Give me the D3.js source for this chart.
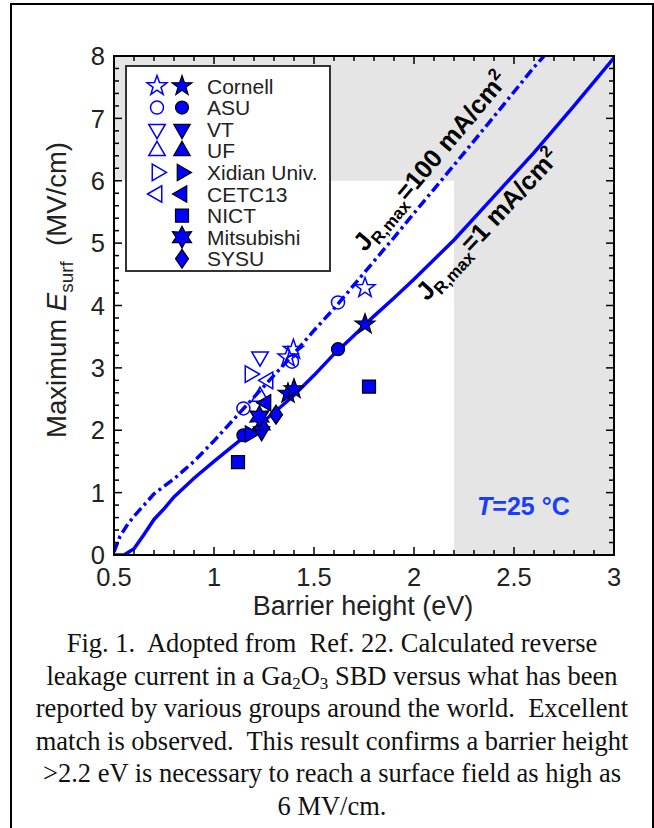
<!DOCTYPE html>
<html><head><meta charset="utf-8">
<script src="https://cdn.jsdelivr.net/npm/d3@7"></script>
<style>
html,body{margin:0;padding:0;background:#fff;}
svg{display:block;}
text{white-space:pre;}
</style></head>
<body>
<svg id="chart" width="654" height="828"></svg>
<script>
// ---------- DATA ----------
const groups = ["Cornell","ASU","VT","UF","Xidian Univ.","CETC13","NICT","Mitsubishi","SYSU"];
const groupShapes = ["star","circle","down","up","right","left","square","hexagram","diamond"];
const groupHasOpen = [true,true,true,true,true,true,false,false,false];

// open markers (x = barrier height eV, y = E_surf MV/cm)
const openGroup = ["Cornell","Cornell","Cornell","ASU","ASU","ASU","VT","UF","Xidian Univ.","CETC13"];
const openX = [1.755,1.397,1.37,1.62,1.39,1.147,1.23,1.23,1.18,1.27];
const openY = [4.28,3.29,3.17,4.05,3.10,2.35,3.18,2.54,2.90,2.80];

// filled markers
const filledGroup = ["Cornell","Cornell","Cornell","ASU","ASU","VT","UF","Xidian Univ.","CETC13","NICT","NICT","Mitsubishi","SYSU"];
const filledX = [1.755,1.37,1.40,1.62,1.147,1.238,1.24,1.18,1.26,1.775,1.12,1.227,1.31];
const filledY = [3.70,2.59,2.66,3.30,1.92,1.98,2.08,1.94,2.44,2.70,1.49,2.22,2.25];

// calculated curves
const solidX = [0.5,0.55,0.6,0.65,0.7,0.75,0.8,0.9,1.0,1.1,1.2,1.3,1.4,1.5,1.6,1.7,1.8,1.9,2.0,2.2,2.4,2.6,2.8,3.0];
const solidY = [0,0,0.1,0.33,0.57,0.74,0.93,1.23,1.5,1.76,2.02,2.28,2.56,2.88,3.22,3.52,3.83,4.12,4.42,5.05,5.75,6.45,7.2,7.97];
const dashX = [0.5,0.53,0.57,0.6,0.65,0.7,0.75,0.8,0.85,0.9,1.0,1.1,1.2,1.3,1.4,1.5,1.6,1.7,1.8,1.9,2.0,2.2,2.4,2.6,2.65];
const dashY = [0.05,0.3,0.5,0.62,0.8,0.98,1.1,1.22,1.36,1.5,1.83,2.18,2.53,2.88,3.23,3.6,3.95,4.33,4.71,5.09,5.48,6.25,7.03,7.82,8.0];

const xTicks = [0.5,1,1.5,2,2.5,3];
const xTickLabels = ["0.5","1","1.5","2","2.5","3"];
const yTicks = [0,1,2,3,4,5,6,7,8];
const shadeLimitX = 2.2, shadeLimitY = 6;

const caption = [
 "Fig. 1.  Adopted from  Ref. 22. Calculated reverse",
 ["leakage current in a Ga","2","O","3"," SBD versus what has been"],
 "reported by various groups around the world.  Excellent",
 "match is observed.  This result confirms a barrier height",
 ">2.2 eV is necessary to reach a surface field as high as",
 "6 MV/cm."
];

// ---------- LAYOUT ----------
const svg = d3.select("#chart");
const L = 114, R = 614, T = 56, B = 555;
const x = d3.scaleLinear().domain([0.5,3]).range([L,R]);
const y = d3.scaleLinear().domain([0,8]).range([B,T]);
const blue = "#0000ff";
const sans = "'Liberation Sans', Arial, Helvetica, sans-serif";
const textCol = "#222";

// outer frame
svg.append("rect").attr("x",11).attr("y",4).attr("width",642).attr("height",840)
  .attr("fill","none").attr("stroke","#000").attr("stroke-width",2);

// shading
const shade = "#e5e5e5";
svg.append("rect").attr("x",x(shadeLimitX)).attr("y",y(8)).attr("width",x(3)-x(shadeLimitX)).attr("height",y(0)-y(8)).attr("fill",shade);
svg.append("rect").attr("x",x(0.5)).attr("y",y(8)).attr("width",x(shadeLimitX)-x(0.5)).attr("height",y(shadeLimitY)-y(8)).attr("fill",shade);

// clip
svg.append("clipPath").attr("id","pc").append("rect").attr("x",L).attr("y",T).attr("width",R-L).attr("height",B-T);

// curves
const line = d3.line().x(d=>x(d[0])).y(d=>y(d[1]));
const gC = svg.append("g").attr("clip-path","url(#pc)");
gC.append("path").datum(dashX.map((v,i)=>[v,dashY[i]])).attr("d",line)
  .attr("fill","none").attr("stroke",blue).attr("stroke-width",3.5).attr("stroke-dasharray","10,4,3,4");
gC.append("path").datum(solidX.map((v,i)=>[v,solidY[i]])).attr("d",line)
  .attr("fill","none").attr("stroke",blue).attr("stroke-width",3.5);

// marker shapes
function starPath(n, ro, ri){
  let p=[];
  for(let i=0;i<2*n;i++){
    const r = i%2===0?ro:ri;
    const a = -Math.PI/2 + i*Math.PI/n;
    p.push([r*Math.cos(a), r*Math.sin(a)]);
  }
  return "M"+p.map(q=>q[0].toFixed(2)+","+q[1].toFixed(2)).join("L")+"Z";
}
function triPath(r, rot){
  let p=[];
  for(let i=0;i<3;i++){
    const a = rot + i*2*Math.PI/3;
    p.push([r*Math.cos(a), r*Math.sin(a)]);
  }
  return "M"+p.map(q=>q[0].toFixed(2)+","+q[1].toFixed(2)).join("L")+"Z";
}
function shapePath(s){
  switch(s){
    case "star": return starPath(5, 10.5, 4.2);
    case "hexagram": return starPath(6, 11, 6.0);
    case "circle": return "M6.5,0A6.5,6.5 0 1,1 -6.5,0A6.5,6.5 0 1,1 6.5,0Z";
    case "up": return triPath(9.5, -Math.PI/2);
    case "down": return triPath(9.5, Math.PI/2);
    case "right": return triPath(9.5, 0);
    case "left": return triPath(9.5, Math.PI);
    case "square": return "M-6.5,-6.5L6.5,-6.5L6.5,6.5L-6.5,6.5Z";
    case "diamond": return "M0,-9.5L6.5,0L0,9.5L-6.5,0Z";
  }
}
const shapeOf = g => groupShapes[groups.indexOf(g)];

// open markers
svg.append("g").selectAll("path").data(openX.map((v,i)=>({x:v,y:openY[i],g:openGroup[i]})))
  .join("path").attr("transform",d=>`translate(${x(d.x)},${y(d.y)})`)
  .attr("d",d=>shapePath(shapeOf(d.g))).attr("fill","none").attr("stroke",blue).attr("stroke-width",1.5);
// filled markers
svg.append("g").selectAll("path").data(filledX.map((v,i)=>({x:v,y:filledY[i],g:filledGroup[i]})))
  .join("path").attr("transform",d=>`translate(${x(d.x)},${y(d.y)})`)
  .attr("d",d=>shapePath(shapeOf(d.g))).attr("fill",blue).attr("stroke","#000").attr("stroke-width",1.2);

// axes box
svg.append("rect").attr("x",L).attr("y",T).attr("width",R-L).attr("height",B-T)
  .attr("fill","none").attr("stroke","#000").attr("stroke-width",2);

const minorX = d3.range(5,31).map(v=>v/10);
const minorY = d3.range(0,41).map(v=>v/5);
const gt = svg.append("g").attr("stroke","#000").attr("stroke-width",1.5);
minorX.forEach(v=>{
  const major = xTicks.some(t=>Math.abs(t-v)<1e-6);
  const len = major?8:5;
  gt.append("line").attr("x1",x(v)).attr("x2",x(v)).attr("y1",B).attr("y2",B-len);
  gt.append("line").attr("x1",x(v)).attr("x2",x(v)).attr("y1",T).attr("y2",T+len);
});
minorY.forEach(v=>{
  const major = yTicks.some(t=>Math.abs(t-v)<1e-6);
  const len = major?8:5;
  gt.append("line").attr("x1",L).attr("x2",L+len).attr("y1",y(v)).attr("y2",y(v));
  gt.append("line").attr("x1",R).attr("x2",R-len).attr("y1",y(v)).attr("y2",y(v));
});

// tick labels
svg.append("g").selectAll("text").data(xTicks).join("text")
  .attr("x",d=>x(d)).attr("y",B+31).attr("text-anchor","middle")
  .attr("font-family",sans).attr("font-size",25.5).attr("fill",textCol)
  .text((d,i)=>xTickLabels[i]);
svg.append("g").selectAll("text").data(yTicks).join("text")
  .attr("x",L-9).attr("y",d=>y(d)).attr("dy","0.36em").attr("text-anchor","end")
  .attr("font-family",sans).attr("font-size",25.5).attr("fill",textCol)
  .text(d=>d);

// axis labels
svg.append("text").attr("x",363).attr("y",615).attr("text-anchor","middle")
  .attr("font-family",sans).attr("font-size",27).attr("fill",textCol).text("Barrier height (eV)");
const yl = svg.append("text").attr("transform",`translate(66,290) rotate(-90)`)
  .attr("text-anchor","middle").attr("font-family",sans).attr("font-size",27.5).attr("fill",textCol);
yl.append("tspan").text("Maximum ");
yl.append("tspan").attr("font-style","italic").text("E");
yl.append("tspan").attr("font-size",19).attr("dy",7).text("surf");
yl.append("tspan").attr("dy",-7).text("  (MV/cm)");

// legend
const lg = svg.append("g");
lg.append("rect").attr("x",126).attr("y",66).attr("width",204).attr("height",205)
  .attr("fill","#fff").attr("stroke","#333").attr("stroke-width",2);
groups.forEach((g,i)=>{
  const cy = 86 + i*21.6;
  if(groupHasOpen[i]){
    lg.append("path").attr("transform",`translate(157,${cy})`).attr("d",shapePath(groupShapes[i]))
      .attr("fill","none").attr("stroke",blue).attr("stroke-width",1.5);
  }
  lg.append("path").attr("transform",`translate(182,${cy})`).attr("d",shapePath(groupShapes[i]))
    .attr("fill",blue).attr("stroke","#000").attr("stroke-width",1.2);
  lg.append("text").attr("x",207).attr("y",cy).attr("dy","0.36em")
    .attr("font-family",sans).attr("font-size",21).attr("fill",textCol).text(g);
});

// curve annotations
function jLabel(px,py,ang,val){
  const t = svg.append("text").attr("transform",`translate(${x(px)},${y(py)}) rotate(${ang})`)
    .attr("font-family",sans).attr("font-weight","bold").attr("font-size",25.5).attr("fill","#000");
  t.append("tspan").text("J");
  t.append("tspan").attr("font-size",17).attr("dy",6).text("R,max");
  t.append("tspan").attr("dy",-6).text("="+val+" mA/cm");
  t.append("tspan").attr("font-size",17).attr("dy",-10).text("2");
}
jLabel(1.755,4.85,-50,"100");
jLabel(2.065,4.06,-47,"1");

const tt = svg.append("text").attr("x",x(2.315)).attr("y",y(0.64))
  .attr("font-family",sans).attr("font-weight","bold").attr("font-size",25).attr("fill","#1a3cff");
tt.append("tspan").attr("font-style","italic").text("T");
tt.append("tspan").text("=25 °C");

// caption
const serif = "'Liberation Serif','Times New Roman',Times,serif";
caption.forEach((c,i)=>{
  const t = svg.append("text").attr("x",332).attr("y",652+i*32.6).attr("text-anchor","middle")
    .attr("font-family",serif).attr("font-size",26.5).attr("fill","#111");
  if(Array.isArray(c)){
    t.append("tspan").text(c[0]);
    t.append("tspan").attr("font-size",17).attr("dy",4).text(c[1]);
    t.append("tspan").attr("dy",-4).text(c[2]);
    t.append("tspan").attr("font-size",17).attr("dy",4).text(c[3]);
    t.append("tspan").attr("dy",-4).text(c[4]);
  } else t.text(c);
});
</script>
</body></html>
